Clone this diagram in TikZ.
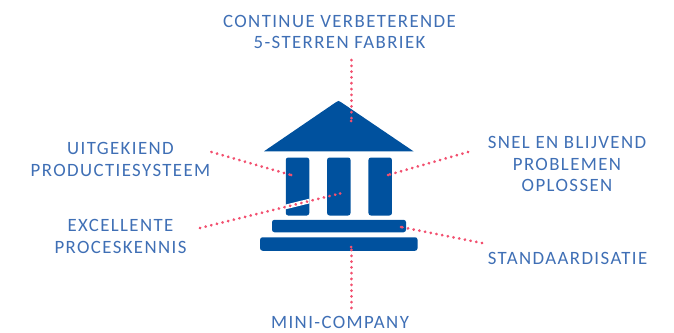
\documentclass[tikz,border=0pt]{standalone}
\usepackage{fontspec}
\setmainfont[LetterSpace=7.5]{Carlito}
\definecolor{housecol}{HTML}{00519E}
\definecolor{labelcol}{HTML}{3F6FB5}
\definecolor{dotcol}{HTML}{F2506F}
\tikzset{
  part/.style={fill=housecol,draw=none,rounded corners=2.5pt,inner sep=0pt,minimum width=#1},
  lab/.style={text=labelcol,align=center,inner sep=0pt,font=\fontsize{18.8}{21.5}\selectfont},
  dots/.style={draw=dotcol,line width=3pt,line cap=round,dash pattern=on 0.05pt off 5.75pt},
}
\begin{document}
\begin{tikzpicture}[x=1pt,y=-1pt]
\useasboundingbox (0,0) rectangle (674,332);
% house
\path[fill=housecol] (264,151.3) -- (335.8,102.3) .. controls (338.5,100.5) .. (341.2,102.3) -- (413.5,151.3) -- cycle;
\node[part=23.5pt,minimum height=58pt] (c1) at (297.5,186.5) {};
\node[part=23.5pt,minimum height=58pt] (c2) at (338.8,186.5) {};
\node[part=23.5pt,minimum height=58pt] (c3) at (380.2,186.5) {};
\node[part=134pt,minimum height=12.5pt] (b1) at (339,226) {};
\node[part=157.5pt,minimum height=13.5pt] (b2) at (338.8,244) {};
\begin{scope}
\clip (c1.south west) rectangle (c1.north east);
\draw[white,line width=4.6pt] (200,228) -- (340,193.5);
\end{scope}
% labels
\node[lab] (top) at (339.5,32) {CONTINUE VERBETERENDE\\5-STERREN FABRIEK};
\node[lab] (ul) at (120.5,159.5) {UITGEKIEND\\PRODUCTIESYSTEEM};
\node[lab] (ur) at (567,164) {SNEL EN BLIJVEND\\PROBLEMEN\\OPLOSSEN};
\node[lab] (ll) at (120.5,236.5) {EXCELLENTE\\PROCESKENNIS};
\node[lab] (lr) at (567.5,258) {STANDAARDISATIE};
\node[lab] (bot) at (340,322.5) {MINI-COMPANY};
% connector ends
\coordinate (t0) at (351,60);   \coordinate (t1) at (351,121);
\coordinate (a0) at (211.5,152);\coordinate (a1) at (291,175);
\coordinate (r0) at (468,152);  \coordinate (r1) at (388,175);
\coordinate (e0) at (200,228);  \coordinate (e1) at (340,193.5);
\coordinate (s0) at (482,243);  \coordinate (s1) at (401,227);
\coordinate (m0) at (351,308);  \coordinate (m1) at (351,247);
\foreach \u/\v in {t0/t1,a0/a1,r0/r1,e0/e1,s0/s1,m0/m1}
  \draw[dots] (\u) -- (\v);
\foreach \v in {t1,a1,r1,e1,s1,m1}
  \fill[dotcol] (\v) circle (1.5pt);
\end{tikzpicture}
\end{document}
